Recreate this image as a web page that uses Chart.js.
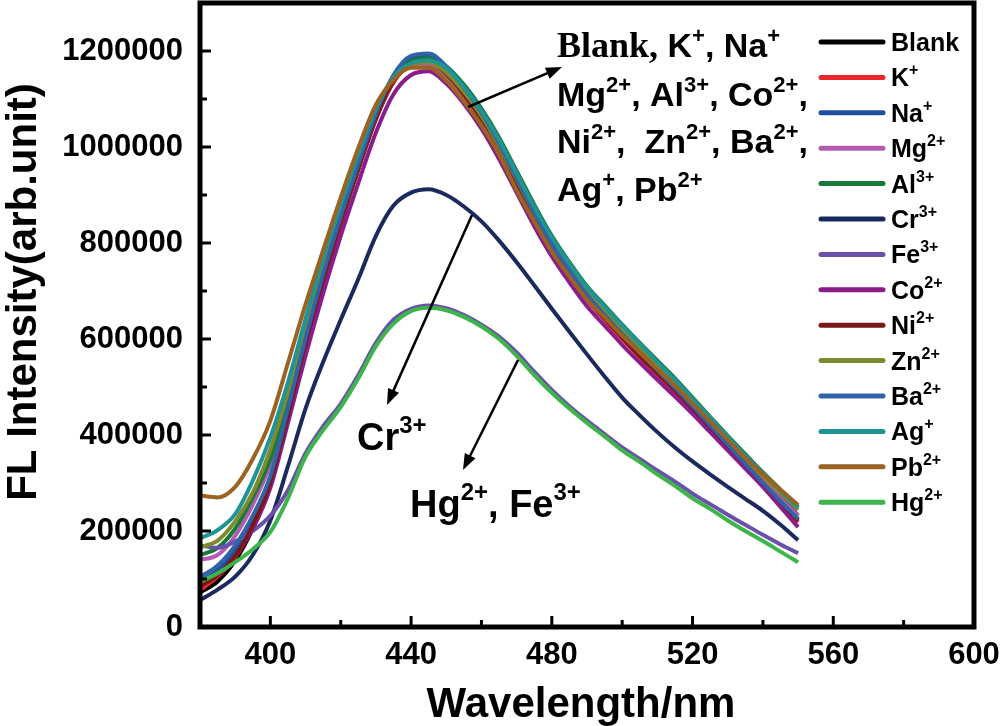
<!DOCTYPE html>
<html>
<head>
<meta charset="utf-8">
<script src="https://cdn.jsdelivr.net/npm/chart.js@4.4.0/dist/chart.umd.min.js"></script>
<style>
  html, body { margin: 0; padding: 0; background: #fff; }
  #fl-chart { display: block; }
</style>
</head>
<body>
<canvas id="fl-chart" width="1000" height="726"></canvas>
<script>
// emission wavelength (nm), one reading every 5 nm
var wavelengths = [380,385,390,395,400,405,410,415,420,425,430,435,440,445,450,455,460,465,470,475,480,485,490,495,500,505,510,515,520,525,530,535,540,545,550];

// FL intensity (arb. unit) for each ion
var blank = [72000,95000,138000,205000,295000,435000,588000,720000,840000,953000,1058000,1135000,1172000,1177000,1152000,1112000,1062000,1000000,930000,860000,796000,742000,692000,652000,612000,575000,540000,505000,468000,430000,392000,352000,312000,272000,232000];
var kIon = [77000,105000,145000,210000,300000,440000,590000,722000,842000,955000,1060000,1135000,1172000,1176000,1150000,1108000,1055000,992000,921000,850000,785000,731000,681000,640000,600000,562000,526000,490000,453000,414000,375000,336000,297000,258000,218000];
var naIon = [95000,118000,160000,225000,310000,450000,598000,730000,850000,960000,1065000,1145000,1185000,1192000,1165000,1122000,1068000,1004000,932000,860000,794000,739000,688000,646000,606000,568000,531000,494000,456000,416000,376000,337000,298000,260000,223000];
var mgIon = [140000,150000,190000,255000,340000,470000,612000,742000,858000,968000,1068000,1138000,1170000,1172000,1150000,1108000,1057000,995000,925000,855000,792000,738000,688000,648000,608000,570000,534000,498000,460000,421000,382000,343000,305000,268000,232000];
var alIon = [150000,165000,205000,270000,350000,475000,615000,750000,865000,975000,1075000,1145000,1180000,1185000,1168000,1130000,1080000,1020000,950000,880000,815000,760000,710000,670000,630000,592000,555000,518000,478000,438000,398000,360000,322000,286000,250000];
var crIon = [56000,78000,105000,150000,222000,335000,455000,552000,640000,725000,815000,878000,905000,912000,900000,876000,845000,805000,760000,712000,663000,615000,568000,522000,478000,441000,406000,374000,345000,318000,292000,267000,242000,213000,181000];
var feIon = [170000,165000,178000,200000,232000,285000,362000,418000,465000,525000,592000,640000,663000,670000,664000,650000,630000,605000,572000,532000,494000,460000,430000,402000,374000,350000,326000,303000,278000,256000,234000,213000,192000,172000,154000];
var coIon = [90000,108000,148000,205000,290000,425000,565000,695000,815000,925000,1030000,1110000,1150000,1158000,1132000,1090000,1038000,975000,905000,835000,772000,718000,668000,628000,588000,551000,515000,480000,444000,406000,368000,330000,292000,250000,208000];
var niIon = [85000,108000,148000,212000,302000,442000,592000,724000,845000,957000,1062000,1138000,1175000,1178000,1152000,1110000,1058000,995000,924000,853000,788000,734000,684000,643000,603000,565000,529000,493000,456000,417000,378000,339000,300000,261000,222000];
var znIon = [166000,180000,220000,280000,370000,490000,628000,760000,872000,980000,1078000,1142000,1172000,1176000,1155000,1115000,1065000,1003000,933000,863000,800000,746000,697000,657000,617000,580000,543000,506000,468000,428000,388000,350000,314000,279000,244000];
var baIon = [104000,128000,170000,232000,315000,455000,602000,735000,855000,965000,1070000,1150000,1190000,1195000,1168000,1125000,1072000,1008000,936000,864000,798000,743000,692000,650000,610000,572000,535000,498000,460000,420000,380000,340000,300000,262000,225000];
var agIon = [185000,202000,235000,305000,395000,510000,642000,770000,880000,985000,1080000,1145000,1175000,1180000,1165000,1125000,1075000,1015000,945000,875000,812000,758000,708000,668000,628000,590000,552000,515000,475000,436000,396000,357000,320000,284000,248000];
var pbIon = [274000,270000,292000,350000,430000,550000,672000,785000,895000,998000,1088000,1140000,1165000,1165000,1138000,1095000,1045000,985000,910000,845000,782000,730000,682000,645000,607000,572000,537000,503000,466000,428000,390000,352000,318000,286000,254000];
var hgIon = [94000,112000,135000,162000,198000,268000,355000,410000,458000,518000,585000,632000,658000,665000,660000,646000,626000,600000,565000,525000,488000,455000,425000,397000,368000,344000,318000,294000,268000,246000,222000,200000,179000,157000,135000];

var seriesValues = [blank, kIon, naIon, mgIon, alIon, crIon, feIon, coIon, niIon, znIon, baIon, agIon, pbIon, hgIon];
var seriesNames = ['Blank','K','Na','Mg','Al','Cr','Fe','Co','Ni','Zn','Ba','Ag','Pb','Hg'];
var seriesCharges = ['','+','+','2+','3+','3+','3+','2+','2+','2+','2+','+','2+','2+'];
var seriesColors = ['#000000','#e8262b','#1f4ea0','#b45cb0','#17793a','#1b2a5c','#6a50aa','#8a1c8c','#7a1717','#7f8a2c','#2f64a8','#1f9494','#9b6222','#3eb54a'];

var xTickValues = [400,440,480,520,560,600];
var yTickValues = [0,200000,400000,600000,800000,1000000,1200000];

var FONT = '"Liberation Sans", Arial, sans-serif';
var SERIF = '"Liberation Serif", "Times New Roman", serif';

// text blocks next to the curves: [text, superscript?, serif?]
var groupLabel = [
  [['Blank,',0,1],[' K',0],['+',1],[', Na',0],['+',1]],
  [['Mg',0],['2+',1],[', Al',0],['3+',1],[', Co',0],['2+',1],[',',0]],
  [['Ni',0],['2+',1],[',  Zn',0],['2+',1],[', Ba',0],['2+',1],[',',0]],
  [['Ag',0],['+',1],[', Pb',0],['2+',1]]
];
var crLabel = [['Cr',0],['3+',1]];
var hgLabel = [['Hg',0],['2+',1],[', Fe',0],['3+',1]];

function drawRich(ctx, x, y, parts, size, supSize, raise, serifSize) {
  ctx.textAlign = 'left';
  ctx.textBaseline = 'alphabetic';
  parts.forEach(function (p) {
    if (p[2]) ctx.font = 'bold ' + (serifSize || size) + 'px ' + SERIF;
    else ctx.font = 'bold ' + (p[1] ? supSize : size) + 'px ' + FONT;
    ctx.fillText(p[0], x, p[1] ? y - raise : y);
    x += ctx.measureText(p[0]).width;
  });
}

function arrow(ctx, x1, y1, x2, y2) {
  var a = Math.atan2(y2 - y1, x2 - x1);
  ctx.lineWidth = 2.5;
  ctx.beginPath();
  ctx.moveTo(x1, y1);
  ctx.lineTo(x2 - 10 * Math.cos(a), y2 - 10 * Math.sin(a));
  ctx.stroke();
  ctx.beginPath();
  ctx.moveTo(x2, y2);
  ctx.lineTo(x2 - 16 * Math.cos(a) + 6 * Math.sin(a), y2 - 16 * Math.sin(a) - 6 * Math.cos(a));
  ctx.lineTo(x2 - 16 * Math.cos(a) - 6 * Math.sin(a), y2 - 16 * Math.sin(a) + 6 * Math.cos(a));
  ctx.closePath();
  ctx.fill();
}

var decor = {
  id: 'decor',
  afterDraw: function (chart) {
    var ctx = chart.ctx;
    var a = chart.chartArea;
    var sx = chart.scales.x, sy = chart.scales.y;
    ctx.save();
    ctx.fillStyle = '#000';
    ctx.strokeStyle = '#000';

    // frame
    ctx.lineWidth = 5;
    ctx.strokeRect(a.left, a.top, a.right - a.left, a.bottom - a.top);

    // inward tick marks, major + minor
    ctx.lineWidth = 3;
    for (var v = sx.min; v <= sx.max; v += 20) {
      var px = sx.getPixelForValue(v);
      var len = (v % 40 === 0) ? 11 : 7;
      ctx.beginPath(); ctx.moveTo(px, a.bottom); ctx.lineTo(px, a.bottom - len); ctx.stroke();
    }
    for (var w = sy.min; w <= sy.max; w += 100000) {
      var py = sy.getPixelForValue(w);
      var l2 = (w % 200000 === 0) ? 11 : 7;
      ctx.beginPath(); ctx.moveTo(a.left, py); ctx.lineTo(a.left + l2, py); ctx.stroke();
    }

    // legend
    chart.data.datasets.forEach(function (ds, i) {
      var ly = 42 + i * 35.4;
      ctx.strokeStyle = ds.borderColor;
      ctx.lineWidth = 5;
      ctx.lineCap = 'round';
      ctx.beginPath(); ctx.moveTo(821, ly); ctx.lineTo(883, ly); ctx.stroke();
      ctx.lineCap = 'butt';
      drawRich(ctx, 891, ly + 9, [[seriesNames[i],0],[seriesCharges[i],1]], 25, 16, 11);
    });
    ctx.strokeStyle = '#000';

    // annotations
    var base = [57, 106, 153, 201];
    groupLabel.forEach(function (line, i) {
      drawRich(ctx, 557, base[i], line, 34, 22, 14, 36);
    });
    drawRich(ctx, 357, 450, crLabel, 38, 24, 17);
    drawRich(ctx, 410, 517, hgLabel, 38, 24, 17);
    arrow(ctx, 468, 107, 562, 67);
    arrow(ctx, 472, 215, 387, 405);
    arrow(ctx, 518, 360, 463, 470);

    // axis titles
    ctx.font = 'bold 42px ' + FONT;
    ctx.textAlign = 'center';
    ctx.textBaseline = 'alphabetic';
    ctx.fillText('Wavelength/nm', (a.left + a.right) / 2 - 6, 717);
    ctx.translate(36, 292);
    ctx.rotate(-Math.PI / 2);
    ctx.fillText('FL Intensity(arb.unit)', 0, 0);
    ctx.restore();
  }
};

var datasets = seriesValues.map(function (vals, i) {
  return {
    label: seriesNames[i] + seriesCharges[i],
    data: vals.map(function (v, j) { return { x: wavelengths[j], y: v }; }),
    borderColor: seriesColors[i],
    borderWidth: 4,
    pointRadius: 0,
    fill: false,
    tension: 0.4,
    cubicInterpolationMode: 'monotone',
    order: seriesValues.length - i
  };
});

var tickFont = { family: FONT, weight: 'bold', size: 31 };

var chart = new Chart(document.getElementById('fl-chart'), {
  type: 'line',
  data: { datasets: datasets },
  options: {
    responsive: false,
    animation: false,
    devicePixelRatio: 1,
    layout: { padding: { top: 3, right: 26, left: 0, bottom: 0 } },
    plugins: {
      legend: { display: false },
      tooltip: { enabled: false }
    },
    scales: {
      x: {
        type: 'linear',
        min: 380,
        max: 600,
        grid: { display: false, drawTicks: false },
        border: { display: false },
        ticks: { font: tickFont, color: '#000', padding: 10, maxRotation: 0,
                  callback: function (v) { return String(v); } },
        afterBuildTicks: function (s) { s.ticks = xTickValues.map(function (v) { return { value: v }; }); },
        afterFit: function (s) { s.height = 99; s.paddingLeft = 0; s.paddingRight = 0; }
      },
      y: {
        type: 'linear',
        min: 0,
        max: 1300000,
        grid: { display: false, drawTicks: false },
        border: { display: false },
        ticks: { font: tickFont, color: '#000', padding: 17,
                  callback: function (v) { return String(v); } },
        afterBuildTicks: function (s) { s.ticks = yTickValues.map(function (v) { return { value: v }; }); },
        afterFit: function (s) { s.width = 200; s.paddingTop = 0; s.paddingBottom = 0; }
      }
    }
  },
  plugins: [decor]
});
</script>
</body>
</html>
